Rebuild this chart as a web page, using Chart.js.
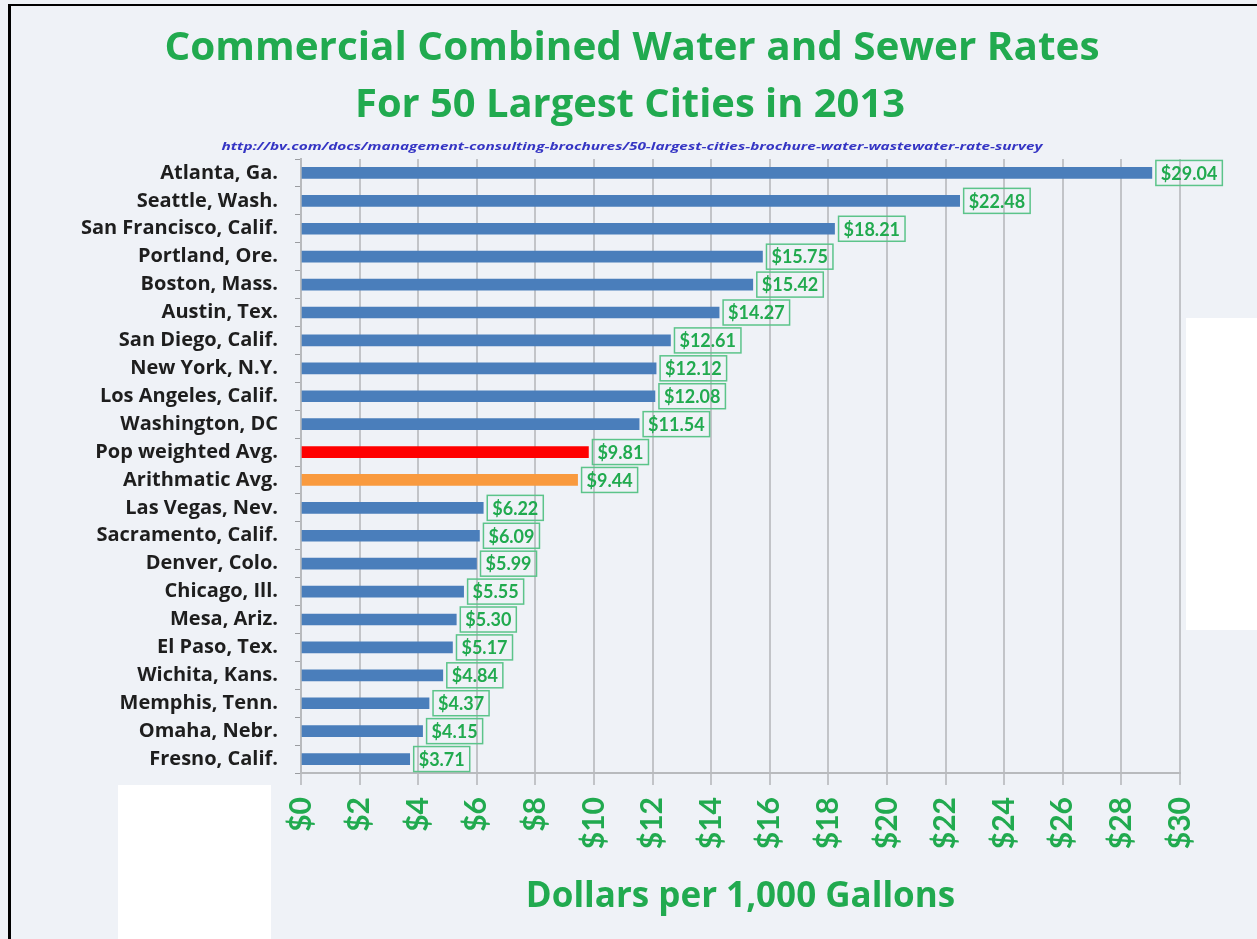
<!DOCTYPE html>
<html lang="en">
<head>
    <meta charset="UTF-8">
    <title>Commercial Combined Water and Sewer Rates</title>
    <script src="https://cdn.jsdelivr.net/npm/chart.js"></script>
    <style>
        body { margin: 0; background: #eff2f7; }
        canvas { display: block; }
    </style>
</head>
<body>
    <canvas id="rateChart" width="1257" height="939"></canvas>

    <script>
        // Data
        const cities = [
            "Atlanta, Ga.", "Seattle, Wash.", "San Francisco, Calif.", "Portland, Ore.",
            "Boston, Mass.", "Austin, Tex.", "San Diego, Calif.", "New York, N.Y.",
            "Los Angeles, Calif.", "Washington, DC", "Pop weighted Avg.", "Arithmatic Avg.",
            "Las Vegas, Nev.", "Sacramento, Calif.", "Denver, Colo.", "Chicago, Ill.",
            "Mesa, Ariz.", "El Paso, Tex.", "Wichita, Kans.", "Memphis, Tenn.",
            "Omaha, Nebr.", "Fresno, Calif."
        ];
        const rates = [
            29.04, 22.48, 18.21, 15.75, 15.42, 14.27, 12.61, 12.12, 12.08, 11.54, 9.81, 9.44,
            6.22, 6.09, 5.99, 5.55, 5.30, 5.17, 4.84, 4.37, 4.15, 3.71
        ];
        const xMin = 0;
        const xMax = 30;
        const xStep = 2;

        const titleLines = ["Commercial Combined Water and Sewer Rates", "For 50 Largest Cities in 2013"];
        const sourceUrl = "http://bv.com/docs/management-consulting-brochures/50-largest-cities-brochure-water-wastewater-rate-survey";
        const axisTitle = "Dollars per 1,000 Gallons";

        const GREEN = "#21aa4f";

        // Averages get their own colours
        const barColors = cities.map(name => {
            if (name === "Pop weighted Avg.") return "#ff0000";
            if (name === "Arithmatic Avg.") return "#f99a3e";
            return "#4a7ebb";
        });

        // draw text centred at (x, y) squeezed/stretched to a given width
        function fitText(ctx, text, x, y, width) {
            const w = ctx.measureText(text).width;
            ctx.save();
            ctx.translate(x, y);
            ctx.scale(width / w, 1);
            ctx.fillText(text, 0, 0);
            ctx.restore();
        }

        // background + black frame, then the overlays on top
        const decorPlugin = {
            id: "decor",
            beforeDraw(chart) {
                const ctx = chart.ctx;
                ctx.save();
                ctx.fillStyle = "#eff2f7";
                ctx.fillRect(0, 0, chart.width, chart.height);
                ctx.fillStyle = "#000";
                ctx.fillRect(8, 4, chart.width - 8, 2);
                ctx.fillRect(8, 4, 3, chart.height - 4);
                ctx.restore();
            },
            afterDraw(chart) {
                const ctx = chart.ctx;
                ctx.save();
                ctx.textAlign = "center";
                ctx.textBaseline = "middle";

                // titles
                ctx.fillStyle = GREEN;
                ctx.font = "bold 40px 'Open Sans'";
                fitText(ctx, titleLines[0], 632, 49, 935);
                fitText(ctx, titleLines[1], 630, 106, 550);

                // source url
                ctx.font = "bold italic 11px 'Open Sans'";
                ctx.fillStyle = "#3535c4";
                fitText(ctx, sourceUrl, 632, 147, 821);

                // white patches in the scan
                ctx.fillStyle = "#ffffff";
                ctx.fillRect(118, 785, 153, 154);
                ctx.fillRect(1186, 318, 71, 312);
                ctx.restore();
            }
        };

        // boxed value labels at the end of each bar
        const valueLabels = {
            id: "valueLabels",
            afterDatasetsDraw(chart) {
                const ctx = chart.ctx;
                const meta = chart.getDatasetMeta(0);
                ctx.save();
                ctx.font = "bold 18px Lato";
                ctx.textBaseline = "middle";
                ctx.textAlign = "left";
                meta.data.forEach((bar, i) => {
                    const text = "$" + rates[i].toFixed(2);
                    const tw = ctx.measureText(text).width;
                    const bx = bar.x + 4;
                    const bh = 25;
                    ctx.strokeStyle = "#5cc48a";
                    ctx.lineWidth = 1.5;
                    ctx.strokeRect(bx, bar.y - bh / 2, tw + 10, bh);
                    ctx.fillStyle = GREEN;
                    ctx.fillText(text, bx + 5, bar.y + 1);
                });
                ctx.restore();
            }
        };

        const ctx = document.getElementById("rateChart").getContext("2d");
        new Chart(ctx, {
            type: "bar",
            data: {
                labels: cities,
                datasets: [{
                    data: rates,
                    backgroundColor: barColors,
                    barThickness: 11
                }]
            },
            options: {
                indexAxis: "y",
                responsive: false,
                animation: false,
                devicePixelRatio: 1,
                layout: {
                    padding: { left: 10, right: 77, top: 159, bottom: 0 }
                },
                plugins: {
                    legend: { display: false },
                    tooltip: { enabled: false },
                    title: { display: false }
                },
                scales: {
                    x: {
                        min: xMin,
                        max: xMax,
                        afterFit: scale => { scale.height = 166; },
                        ticks: {
                            stepSize: xStep,
                            minRotation: 90,
                            maxRotation: 90,
                            padding: 12,
                            color: GREEN,
                            font: { family: "Lato", size: 30, weight: "bold" },
                            callback: value => "$" + value
                        },
                        grid: {
                            color: "#c2c4c8",
                            lineWidth: 2,
                            tickLength: 12
                        },
                        border: { color: "#b8babd", width: 2 },
                        title: {
                            display: true,
                            text: axisTitle,
                            color: GREEN,
                            font: { family: "Open Sans", size: 35, weight: "bold" },
                            padding: { top: 0, bottom: 21 }
                        }
                    },
                    y: {
                        afterFit: scale => { scale.width = 291; },
                        ticks: {
                            padding: 17,
                            color: "#1e1e1e",
                            font: { family: "Open Sans", size: 20, weight: "bold" }
                        },
                        grid: {
                            drawOnChartArea: false,
                            tickLength: 6,
                            color: "#9a9ca0"
                        },
                        border: { color: "#b8babd", width: 2 }
                    }
                }
            },
            plugins: [decorPlugin, valueLabels]
        });
    </script>
</body>
</html>
